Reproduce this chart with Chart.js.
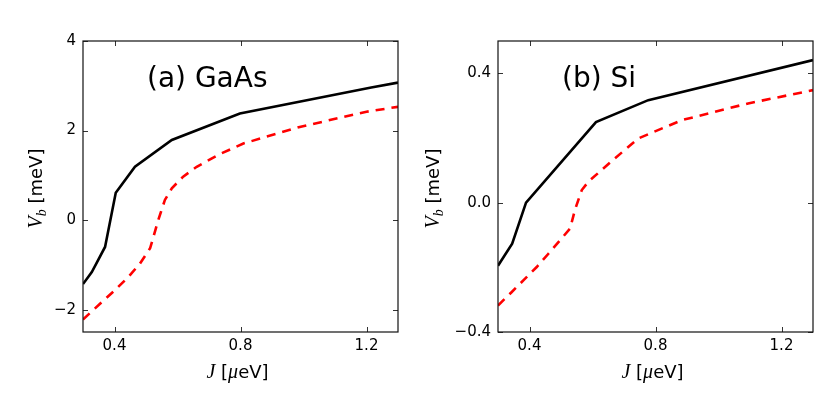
<!DOCTYPE html>
<html>
<head>
<meta charset="utf-8">
<script src="https://cdn.jsdelivr.net/npm/chart.js@4.4.0/dist/chart.umd.min.js"></script>
<style>
  html, body { margin: 0; padding: 0; background: #fff; }
  #wrap { display: flex; width: 830px; height: 415px; }
  canvas { display: block; }
</style>
</head>
<body>
<div id="wrap">
  <canvas id="gaasChart" width="415" height="415"></canvas>
  <canvas id="siChart" width="415" height="415"></canvas>
</div>
<script>
// Values

const xTicks = [0.4, 0.8, 1.2];

// (a) GaAs
const gaasSolidJ  = [0.30, 0.328, 0.37, 0.404, 0.465, 0.582, 0.798, 1.215, 1.30];
const gaasSolidV  = [-1.43, -1.16, -0.60, 0.61, 1.19, 1.79, 2.38, 2.96, 3.07];
const gaasDashedJ = [0.30, 0.354, 0.396, 0.444, 0.481, 0.513, 0.539, 0.56, 0.582, 0.618, 0.661, 0.73, 0.809, 0.988, 1.2, 1.3];
const gaasDashedV = [-2.22, -1.87, -1.60, -1.27, -0.97, -0.63, 0.0, 0.45, 0.71, 0.97, 1.19, 1.46, 1.71, 2.08, 2.42, 2.53];
const gaasYTicks  = [-2, 0, 2, 4];

// (b) Si
const siSolidJ  = [0.30, 0.345, 0.389, 0.611, 0.777, 1.30];
const siSolidV  = [-0.195, -0.127, 0.0, 0.249, 0.317, 0.441];
const siDashedJ = [0.30, 0.343, 0.386, 0.423, 0.46, 0.497, 0.529, 0.544, 0.566, 0.587, 0.629, 0.671, 0.746, 0.883, 1.094, 1.30];
const siDashedV = [-0.318, -0.277, -0.235, -0.199, -0.158, -0.116, -0.08, -0.023, 0.039, 0.065, 0.101, 0.137, 0.199, 0.255, 0.307, 0.348];
const siYTicks  = [-0.4, 0.0, 0.4];

// helpers
function toPoints(xs, ys) {
    return xs.map((x, i) => ({ x: x, y: ys[i] }));
}

function minus(s) {
    return s.replace('-', '\u2212');
}

// draw a run of text pieces with different fonts, centred on (px, py) baseline
function drawRich(ctx, parts, px, py, angle) {
    ctx.save();
    ctx.translate(px, py);
    ctx.rotate(angle);
    ctx.textAlign = 'left';
    ctx.textBaseline = 'alphabetic';
    let w = 0;
    parts.forEach(p => { ctx.font = p.font; w += ctx.measureText(p.text).width; });
    let x = -w / 2;
    parts.forEach(p => {
        ctx.font = p.font;
        ctx.fillText(p.text, x, p.dy || 0);
        x += ctx.measureText(p.text).width;
    });
    ctx.restore();
}

const mathFont = 'italic 20px "Liberation Serif"';
const textFont = '18px "DejaVu Sans"';

const xTitleParts = [
    { text: 'J', font: mathFont },
    { text: ' [', font: textFont },
    { text: 'μ', font: mathFont },
    { text: 'eV]', font: textFont }
];

const yTitleParts = [
    { text: 'V', font: mathFont },
    { text: 'b', font: 'italic 14px "Liberation Serif"', dy: 4 },
    { text: ' [meV]', font: textFont }
];

// frame, inward ticks on all sides, panel label and axis titles
const framePlugin = {
    id: 'framePlugin',
    afterDraw(chart, args, opts) {
        const ctx = chart.ctx;
        const a = chart.chartArea;
        const xs = chart.scales.x;
        const ys = chart.scales.y;
        ctx.save();

        ctx.strokeStyle = '#333';
        ctx.lineWidth = 1;
        ctx.beginPath();
        xs.ticks.forEach(t => {
            const p = Math.round(xs.getPixelForValue(t.value)) + 0.5;
            ctx.moveTo(p, a.bottom); ctx.lineTo(p, a.bottom - 5);
            ctx.moveTo(p, a.top); ctx.lineTo(p, a.top + 5);
        });
        ys.ticks.forEach(t => {
            const p = Math.round(ys.getPixelForValue(t.value)) + 0.5;
            ctx.moveTo(a.left, p); ctx.lineTo(a.left + 5, p);
            ctx.moveTo(a.right, p); ctx.lineTo(a.right - 5, p);
        });
        ctx.stroke();

        ctx.strokeStyle = '#111';
        ctx.lineWidth = 1.2;
        ctx.strokeRect(a.left, a.top, a.right - a.left, a.bottom - a.top);

        ctx.fillStyle = '#000';
        ctx.font = '28px "DejaVu Sans"';
        ctx.textAlign = 'left';
        ctx.textBaseline = 'alphabetic';
        ctx.fillText(opts.panel, a.left + 64, 87);

        drawRich(ctx, xTitleParts, (a.left + a.right) / 2 - 3, 378, 0);
        drawRich(ctx, yTitleParts, opts.yTitleX, (a.top + a.bottom) / 2 + 2, -Math.PI / 2);

        ctx.restore();
    }
};

function makePanel(canvasId, solidJ, solidV, dashedJ, dashedV, yMin, yMax, yTicks, fmt, panel, yTitleX) {
    const ctx = document.getElementById(canvasId);
    return new Chart(ctx, {
        type: 'line',
        data: {
            datasets: [
                {
                    data: toPoints(solidJ, solidV),
                    borderColor: '#000000',
                    borderWidth: 2.6,
                    pointRadius: 0,
                    tension: 0,
                    fill: false
                },
                {
                    data: toPoints(dashedJ, dashedV),
                    borderColor: '#ff0000',
                    borderWidth: 2.6,
                    borderDash: [9, 7],
                    pointRadius: 0,
                    tension: 0,
                    fill: false
                }
            ]
        },
        options: {
            responsive: false,
            animation: false,
            events: [],
            layout: {
                padding: { top: 41, right: 17, left: 0, bottom: 0 }
            },
            scales: {
                x: {
                    type: 'linear',
                    min: 0.3,
                    max: 1.3,
                    afterBuildTicks: s => { s.ticks = xTicks.map(v => ({ value: v })); },
                    afterFit: s => { s.height = 83; },
                    grid: { display: false, drawTicks: false },
                    border: { display: false },
                    ticks: {
                        padding: 5,
                        color: '#000',
                        maxRotation: 0,
                        font: { family: 'DejaVu Sans', size: 15 },
                        callback: v => v.toFixed(1)
                    }
                },
                y: {
                    type: 'linear',
                    min: yMin,
                    max: yMax,
                    afterBuildTicks: s => { s.ticks = yTicks.map(v => ({ value: v })); },
                    afterFit: s => { s.width = 83; },
                    grid: { display: false, drawTicks: false },
                    border: { display: false },
                    ticks: {
                        padding: 7,
                        color: '#000',
                        font: { family: 'DejaVu Sans', size: 15 },
                        callback: fmt
                    }
                }
            },
            plugins: {
                legend: { display: false },
                tooltip: { enabled: false },
                framePlugin: { panel: panel, yTitleX: yTitleX }
            }
        },
        plugins: [framePlugin]
    });
}

makePanel('gaasChart', gaasSolidJ, gaasSolidV, gaasDashedJ, gaasDashedV,
    -2.5, 4, gaasYTicks, v => minus(String(v)), '(a) GaAs', 41.5);

makePanel('siChart', siSolidJ, siSolidV, siDashedJ, siDashedV,
    -0.4, 0.5, siYTicks, v => minus(v.toFixed(1)), '(b) Si', 23.5);
</script>
</body>
</html>
